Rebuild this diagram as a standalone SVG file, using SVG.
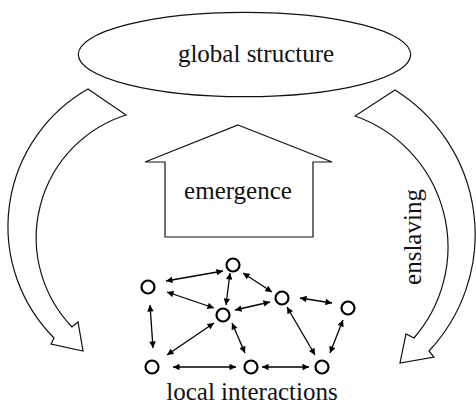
<svg xmlns="http://www.w3.org/2000/svg" width="476" height="404" viewBox="0 0 476 404">
<style>
.shape{fill:#fff;stroke:#111;stroke-width:1.2;stroke-linejoin:miter}
.lbl{font-family:'Liberation Serif','DejaVu Serif',serif;font-size:25px;fill:#111;text-anchor:middle}
.node{fill:#fff;stroke:#000;stroke-width:2.2}
.edge{stroke:#000;stroke-width:1.3;fill:none;marker-start:url(#ah);marker-end:url(#ah)}
</style>
<defs>
<marker id="ah" viewBox="0 0 10 10" refX="10" refY="5" markerWidth="8" markerHeight="6.5" markerUnits="userSpaceOnUse" orient="auto-start-reverse">
<path d="M0,0 L10,5 L0,10 z" fill="#000"/>
</marker>
</defs>
<rect width="476" height="404" fill="#fff"/>
<g id="global-structure">
<ellipse class="shape" cx="244.5" cy="54.5" rx="166.2" ry="42.2"/>
<text class="lbl" x="256" y="62" font-family="Liberation Serif, serif">global structure</text>
</g>
<g id="emergence">
<path class="shape" d="M238 125 L332 162 L313 162 L313 237 L165 237 L165 162 L145 162 Z"/>
<text class="lbl" x="238" y="199" font-family="Liberation Serif, serif">emergence</text>
</g>
<g id="downward-left">
<path class="shape" d="M88 89 L126 115 A128.9 128.9 0 0 0 72 327 L78 322 L83 351 L51 344 L54 338 A158.1 158.1 0 0 1 88 89 Z"/>
</g>
<g id="enslaving">
<path class="shape" d="M395 90 L355 116 A138.8 138.8 0 0 1 414 338 L406 334 L400 363 L434 357 L429 351 A170.2 170.2 0 0 0 395 90 Z"/>
<text class="lbl" x="421" y="237" transform="rotate(-90 421 237)" font-family="Liberation Serif, serif">enslaving</text>
</g>
<g id="connectors">
<line class="edge" x1="166" y1="281" x2="223" y2="271"/>
<line class="edge" x1="167" y1="292" x2="214" y2="308"/>
<line class="edge" x1="230" y1="273" x2="226" y2="305"/>
<line class="edge" x1="243" y1="273" x2="272" y2="292"/>
<line class="edge" x1="235" y1="310" x2="270" y2="302"/>
<line class="edge" x1="150" y1="305" x2="153" y2="348"/>
<line class="edge" x1="214" y1="323" x2="167" y2="355"/>
<line class="edge" x1="232" y1="323" x2="245" y2="353"/>
<line class="edge" x1="300" y1="298" x2="332" y2="303"/>
<line class="edge" x1="287" y1="307" x2="315" y2="355"/>
<line class="edge" x1="343" y1="320" x2="330" y2="353"/>
<line class="edge" x1="173" y1="367" x2="236" y2="367"/>
<line class="edge" x1="262" y1="367" x2="309" y2="367"/>
</g>
<g id="n1"><circle class="node" cx="148" cy="287" r="6.5"/></g>
<g id="n2"><circle class="node" cx="233" cy="265" r="6.5"/></g>
<g id="n3"><circle class="node" cx="223" cy="315" r="6.5"/></g>
<g id="n4"><circle class="node" cx="282" cy="298" r="6.5"/></g>
<g id="n5"><circle class="node" cx="348" cy="308" r="6.5"/></g>
<g id="n6"><circle class="node" cx="152" cy="367" r="6.5"/></g>
<g id="n7"><circle class="node" cx="251" cy="367" r="6.5"/></g>
<g id="n8"><circle class="node" cx="322" cy="367" r="6.5"/></g>
<g id="local-interactions">
<text class="lbl" x="252" y="400" font-family="Liberation Serif, serif">local interactions</text>
</g>
</svg>
